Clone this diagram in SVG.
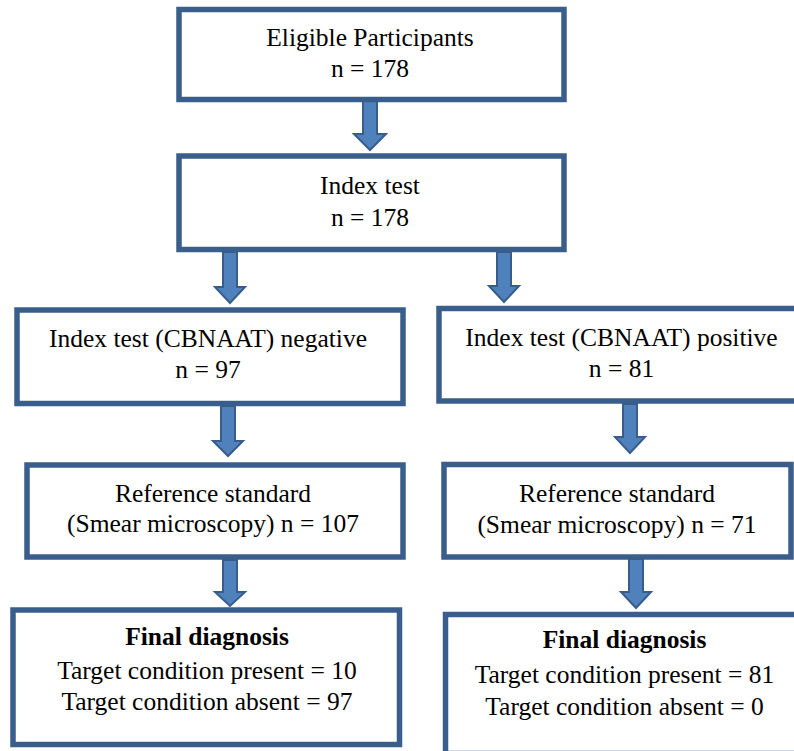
<svg xmlns="http://www.w3.org/2000/svg" width="794" height="751" viewBox="0 0 794 751">
<style>
.box{fill:#ffffff;stroke:#3a5e8b;stroke-width:5.5}
.arr{fill:#4f81bd;stroke:#385d8a;stroke-width:2;stroke-linejoin:miter}
</style>
<rect width="794" height="751" fill="#ffffff"/>
<g id="connectors">
<path class="arr" d="M363,101 H377 V134 H386 L370,150 L354,134 H363 Z"/>
<path class="arr" d="M223,252 H237 V287 H245 L230,303 L215,287 H223 Z"/>
<path class="arr" d="M497,252 H511 V286 H519 L504,302 L489,286 H497 Z"/>
<path class="arr" d="M221,406 H235 V441 H243 L228,456 L213,441 H221 Z"/>
<path class="arr" d="M223,560 H237 V592 H245 L230,606 L215,592 H223 Z"/>
<path class="arr" d="M623,404 H637 V437 H645 L630,453 L615,437 H623 Z"/>
<path class="arr" d="M629,559 H643 V592 H651 L636,608 L621,592 H629 Z"/>
</g>
<g id="eligible">
<rect class="box" x="179" y="9.5" width="385" height="90"/>
<text x="370" y="46" font-family="Liberation Serif" font-size="25.5" text-anchor="middle">Eligible Participants</text>
<text x="370" y="77" font-family="Liberation Serif" font-size="25.5" text-anchor="middle">n = 178</text>
</g>
<g id="index">
<rect class="box" x="179" y="156" width="385" height="93.5"/>
<text x="370" y="194" font-family="Liberation Serif" font-size="25.5" text-anchor="middle">Index test</text>
<text x="370" y="226" font-family="Liberation Serif" font-size="25.5" text-anchor="middle">n = 178</text>
</g>
<g id="negative">
<rect class="box" x="17" y="310" width="386" height="93.5"/>
<text x="208" y="347" font-family="Liberation Serif" font-size="25.5" text-anchor="middle">Index test (CBNAAT) negative</text>
<text x="208" y="378" font-family="Liberation Serif" font-size="25.5" text-anchor="middle">n = 97</text>
</g>
<g id="positive">
<rect class="box" x="439" y="308.5" width="360" height="92.5"/>
<text x="621.5" y="346" font-family="Liberation Serif" font-size="25.5" text-anchor="middle">Index test (CBNAAT) positive</text>
<text x="621.5" y="377" font-family="Liberation Serif" font-size="25.5" text-anchor="middle">n = 81</text>
</g>
<g id="ref-left">
<rect class="box" x="27" y="465" width="376" height="92"/>
<text x="213" y="502" font-family="Liberation Serif" font-size="25.5" text-anchor="middle">Reference standard</text>
<text x="213" y="532" font-family="Liberation Serif" font-size="25.5" text-anchor="middle">(Smear microscopy) n = 107</text>
</g>
<g id="ref-right">
<rect class="box" x="444" y="464.5" width="347" height="92.5"/>
<text x="617" y="502" font-family="Liberation Serif" font-size="25.5" text-anchor="middle">Reference standard</text>
<text x="617" y="533" font-family="Liberation Serif" font-size="25.5" text-anchor="middle">(Smear microscopy) n = 71</text>
</g>
<g id="final-left">
<rect class="box" x="13" y="610" width="386.5" height="134.5"/>
<text x="207" y="645" font-family="Liberation Serif" font-size="25.5" font-weight="bold" text-anchor="middle">Final diagnosis</text>
<text x="207" y="679" font-family="Liberation Serif" font-size="25.5" text-anchor="middle">Target condition present = 10</text>
<text x="207" y="710" font-family="Liberation Serif" font-size="25.5" text-anchor="middle">Target condition absent = 97</text>
</g>
<g id="final-right">
<rect class="box" x="445.5" y="614.5" width="355" height="139"/>
<text x="624.5" y="648" font-family="Liberation Serif" font-size="25.5" font-weight="bold" text-anchor="middle">Final diagnosis</text>
<text x="624.5" y="683" font-family="Liberation Serif" font-size="25.5" text-anchor="middle">Target condition present = 81</text>
<text x="624.5" y="715" font-family="Liberation Serif" font-size="25.5" text-anchor="middle">Target condition absent = 0</text>
</g>
</svg>
